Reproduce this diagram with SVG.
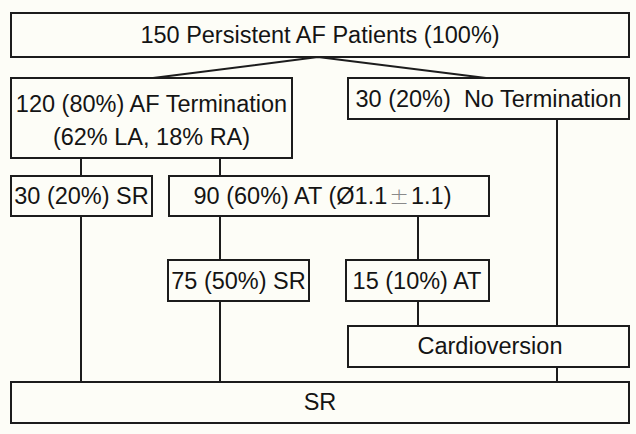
<svg xmlns="http://www.w3.org/2000/svg" width="636" height="434" viewBox="0 0 636 434">
<style>
.bg{fill:#fdfdf7}
.box{fill:#fdfdf7;stroke:#1c1c1c;stroke-width:2}
.t{font-family:"Liberation Sans",Arial,sans-serif;font-size:23.5px;fill:#141414;text-anchor:middle}
.pm{fill:#8a8a8a;font-family:"DejaVu Sans","Liberation Sans",sans-serif;font-weight:200}
.c{stroke:#1c1c1c;stroke-width:2;fill:none}
</style>
<rect class="bg" x="0" y="0" width="636" height="434"/>
<g id="connectors">
<polyline class="c" points="153,78 318,57 486,78"/>
<line class="c" x1="81" y1="158" x2="81" y2="176"/>
<line class="c" x1="220" y1="158" x2="220" y2="176"/>
<line class="c" x1="81" y1="216" x2="81" y2="382"/>
<line class="c" x1="220" y1="216" x2="220" y2="260"/>
<line class="c" x1="220" y1="301" x2="220" y2="382"/>
<line class="c" x1="418" y1="216" x2="418" y2="260"/>
<line class="c" x1="418" y1="301" x2="418" y2="326"/>
<line class="c" x1="557" y1="119" x2="557" y2="326"/>
<line class="c" x1="557" y1="367" x2="557" y2="382"/>
</g>
<g id="n-total">
<rect class="box" x="11" y="13" width="618" height="44"/>
<text class="t" x="320" y="43">150 Persistent AF Patients (100%)</text>
</g>
<g id="n-af-term">
<rect class="box" x="11" y="78" width="281" height="80"/>
<text class="t" x="151.5" y="112">120 (80%) AF Termination</text>
<text class="t" x="151.5" y="145">(62% LA, 18% RA)</text>
</g>
<g id="n-no-term">
<rect class="box" x="348" y="78" width="281" height="41"/>
<text class="t" x="488.5" y="107" xml:space="preserve">30 (20%)  No Termination</text>
</g>
<g id="n-sr30">
<rect class="box" x="11" y="176" width="141" height="40"/>
<text class="t" x="81.5" y="204">30 (20%) SR</text>
</g>
<g id="n-at90">
<rect class="box" x="169" y="176" width="320" height="40"/>
<text class="t" x="322.5" y="204">90 (60%) AT (Ø1.1<tspan class="pm" dx="2">±</tspan><tspan dx="2">1.1)</tspan></text>
</g>
<g id="n-sr75">
<rect class="box" x="168" y="260" width="141" height="41"/>
<text class="t" x="238.5" y="289">75 (50%) SR</text>
</g>
<g id="n-at15">
<rect class="box" x="346" y="260" width="143" height="41"/>
<text class="t" x="417" y="289">15 (10%) AT</text>
</g>
<g id="n-cardio">
<rect class="box" x="348" y="326" width="281" height="41"/>
<text class="t" x="490" y="354">Cardioversion</text>
</g>
<g id="n-sr">
<rect class="box" x="11" y="382" width="618" height="41"/>
<text class="t" x="320" y="410">SR</text>
</g>
</svg>
